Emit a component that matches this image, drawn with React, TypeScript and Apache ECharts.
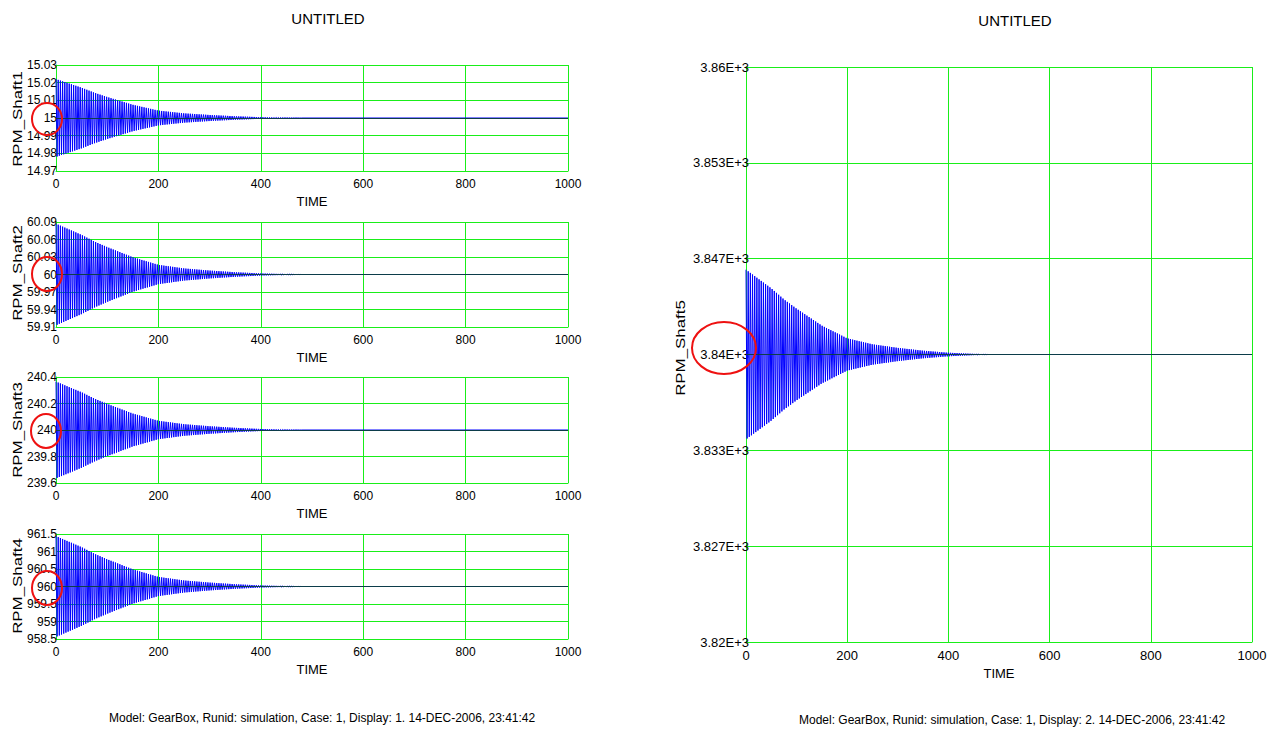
import React, { useEffect, useRef } from "react";
import * as echarts from "echarts";

// ---- data ----
const shaftNames = ["RPM_Shaft1", "RPM_Shaft2", "RPM_Shaft3", "RPM_Shaft4", "RPM_Shaft5"];
const shaftCenters = [15, 60, 240, 960, 3840];
const shaftAmp0 = [0.022, 0.087, 0.365, 1.44, 5.9];
const yMins = [14.97, 59.91, 239.6, 958.5, 3820];
const yMaxs = [15.03, 60.09, 240.4, 961.5, 3860];
const ySteps = [0.01, 0.03, 0.2, 0.5, 20 / 3];
const yDecimals = [2, 2, 1, 1, 0];
// relative envelope of the oscillation
const envTimes = [0, 25, 50, 75, 100, 150, 200, 250, 300, 350, 400, 450, 480];
const envRel = [1, 0.89, 0.78, 0.65, 0.54, 0.34, 0.19, 0.12, 0.078, 0.045, 0.021, 0.008, 0];
const halfPeriod = 2.15; // half oscillation period in TIME units
const timeEnd = 1000;
const titleText = "UNTITLED";
const footers = [
  "Model: GearBox, Runid: simulation, Case: 1, Display: 1. 14-DEC-2006, 23:41:42",
  "Model: GearBox, Runid: simulation, Case: 1, Display: 2. 14-DEC-2006, 23:41:42",
];

// ---- layout ----
const grids = [
  { left: 56, top: 65, width: 512, height: 106 },
  { left: 56, top: 222, width: 512, height: 105 },
  { left: 56, top: 377, width: 512, height: 106 },
  { left: 56, top: 534, width: 512, height: 105 },
  { left: 746, top: 67, width: 506, height: 575 },
];
const circles = [
  { cx: 47, cy: 119, rx: 15, ry: 16 },
  { cx: 47, cy: 274, rx: 15, ry: 17 },
  { cx: 46, cy: 431, rx: 15, ry: 17 },
  { cx: 47, cy: 588, rx: 15, ry: 17 },
  { cx: 724, cy: 348, rx: 32, ry: 26 },
];

const FONT = "'Liberation Sans', Arial, Helvetica, sans-serif";
const GREEN = "#19ee19";

function envAt(t: number) {
  for (let i = 0; i < envTimes.length - 1; i++) {
    if (t >= envTimes[i] && t <= envTimes[i + 1]) {
      const f = (t - envTimes[i]) / (envTimes[i + 1] - envTimes[i]);
      return envRel[i] + f * (envRel[i + 1] - envRel[i]);
    }
  }
  return 0;
}

function buildSeries(k: number) {
  const c = shaftCenters[k];
  const a = shaftAmp0[k];
  const pts: [number, number][] = [];
  const last = envTimes[envTimes.length - 1];
  let n = 0;
  for (let t = 0; t < last; t = n * halfPeriod) {
    const s = n % 2 === 0 ? 1 : -1;
    pts.push([t, c + s * a * envAt(t)]);
    n++;
  }
  pts.push([last, c]);
  pts.push([timeEnd, c]);
  return pts;
}

function makeFmt(k: number) {
  return (v: number) => {
    const idx = Math.round((v - yMins[k]) / ySteps[k]);
    const val = yMins[k] + idx * ySteps[k];
    if (k === 4) {
      let s = (val / 1000).toPrecision(4);
      s = s.replace(/0+$/, "").replace(/\.$/, "");
      return s + "E+3";
    }
    return String(parseFloat(val.toFixed(yDecimals[k])));
  };
}

export default function App() {
  const ref = useRef<HTMLDivElement>(null);
  useEffect(() => {
    if (!ref.current) return;
    const chart = echarts.init(ref.current, undefined, { renderer: "svg" });
    const xAxis = grids.map((g, i) => ({
      type: "value",
      gridIndex: i,
      min: 0,
      max: timeEnd,
      interval: 200,
      name: "TIME",
      nameLocation: "middle",
      nameGap: i === 4 ? 22 : 24,
      nameTextStyle: { color: "#000", fontSize: 13, fontFamily: FONT },
      axisLine: { show: true, lineStyle: { color: GREEN, width: 1 } },
      axisTick: { show: false },
      axisLabel: {
        color: "#000",
        fontSize: i === 4 ? 13 : 12,
        fontFamily: FONT,
        margin: i === 4 ? 7 : 7,
        formatter: (v: number) => String(v),
      },
      splitLine: { show: true, lineStyle: { color: GREEN, width: 1 } },
    }));
    const yAxis = grids.map((g, i) => ({
      type: "value",
      gridIndex: i,
      min: yMins[i],
      max: yMaxs[i],
      interval: ySteps[i],
      axisLine: { show: true, lineStyle: { color: GREEN, width: 1 } },
      axisTick: { show: false },
      axisLabel: {
        color: "#000",
        fontSize: i === 4 ? 13 : 12,
        fontFamily: FONT,
        margin: i === 4 ? -3 : -1,
        formatter: makeFmt(i),
      },
      splitLine: { show: true, lineStyle: { color: GREEN, width: 1 } },
    }));
    const series = grids.map((g, i) => ({
      type: "line",
      xAxisIndex: i,
      yAxisIndex: i,
      showSymbol: false,
      symbol: "none",
      data: buildSeries(i),
      lineStyle: { color: "#0000ff", width: 1 },
      z: 3,
      markLine: {
        silent: true,
        symbol: "none",
        label: { show: false },
        lineStyle: { color: "#0c3d4a", width: 1, type: "solid" },
        data: [{ yAxis: shaftCenters[i] }],
      },
    }));
    const nameX = [17, 17, 17, 17, 680];
    const nameY = [119, 273, 430, 586, 348];
    const graphic: any[] = [];
    shaftNames.forEach((nm, i) => {
      graphic.push({
        type: "text",
        x: nameX[i],
        y: nameY[i],
        rotation: Math.PI / 2,
        scaleX: 1.3,
        z: 100,
        style: {
          text: nm,
          fill: "#000",
          fontSize: 13,
          fontFamily: FONT,
          align: "center",
          verticalAlign: "middle",
          textAlign: "center",
          textVerticalAlign: "middle",
        },
      });
    });
    const titlePos = [
      [328, 18],
      [1015, 20],
    ];
    titlePos.forEach((p) => {
      graphic.push({
        type: "text",
        x: p[0],
        y: p[1],
        z: 100,
        style: {
          text: titleText,
          fill: "#000",
          fontSize: 15,
          fontFamily: FONT,
          align: "center",
          verticalAlign: "middle",
          textAlign: "center",
          textVerticalAlign: "middle",
        },
      });
    });
    const footPos = [
      [109, 718],
      [799, 720],
    ];
    footers.forEach((f, i) => {
      graphic.push({
        type: "text",
        x: footPos[i][0],
        y: footPos[i][1],
        z: 100,
        style: {
          text: f,
          fill: "#000",
          fontSize: 12,
          fontFamily: FONT,
          align: "left",
          verticalAlign: "middle",
          textAlign: "left",
          textVerticalAlign: "middle",
        },
      });
    });
    circles.forEach((c) => {
      graphic.push({
        type: "ellipse",
        z: 100,
        shape: { cx: c.cx, cy: c.cy, rx: c.rx, ry: c.ry },
        style: { fill: "none", stroke: "#ee1111", lineWidth: 2 },
      });
    });
    chart.setOption({
      animation: false,
      backgroundColor: "#ffffff",
      textStyle: { fontFamily: FONT },
      grid: grids.map((g) => ({ ...g, containLabel: false })),
      xAxis,
      yAxis,
      series,
      graphic,
    });
    return () => chart.dispose();
  }, []);
  return (
    <div
      ref={ref}
      style={{ position: "fixed", left: 0, top: 0, width: 1279, height: 731, background: "#fff" }}
    />
  );
}
